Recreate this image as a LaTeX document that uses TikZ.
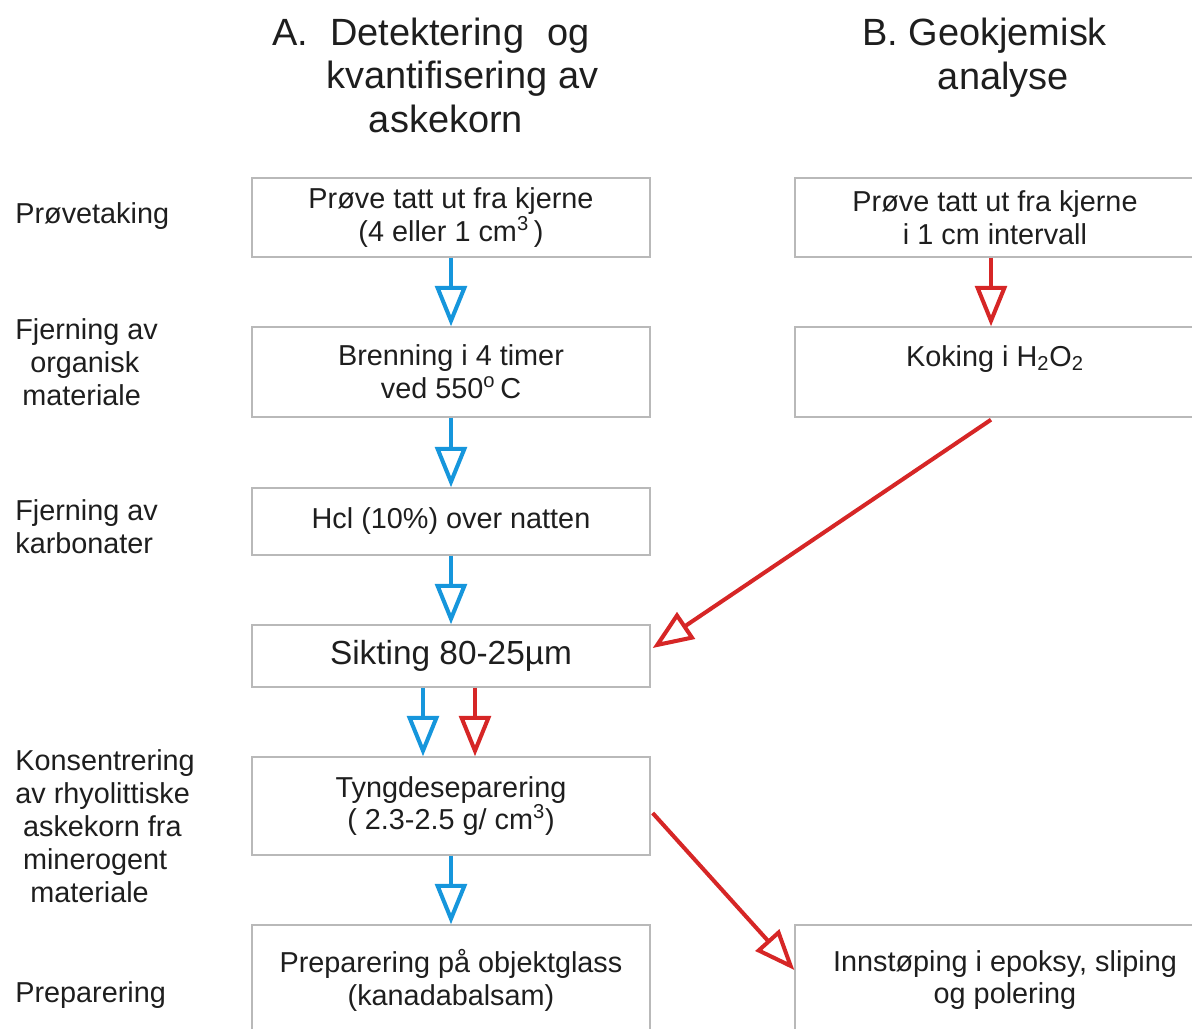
\documentclass[tikz,border=0pt]{standalone}
\usepackage{fontspec}
\setmainfont{Liberation Sans}
\usetikzlibrary{arrows.meta,calc}

\definecolor{flowblue}{RGB}{22,150,220}
\definecolor{flowred}{RGB}{214,38,38}
\definecolor{boxgray}{RGB}{185,185,185}
\definecolor{txtgray}{RGB}{30,30,30}

\tikzset{
  stepbox/.style={draw=boxgray, line width=0.8pt, inner sep=0pt, align=center,
    minimum width=7.96cm, text=txtgray, font=\fontsize{16.4pt}{18.7pt}\selectfont},
  sidelabel/.style={anchor=base west, align=left, inner sep=0pt, text=txtgray,
    font=\fontsize{16.4pt}{18.7pt}\selectfont},
  headlabel/.style={anchor=base west, align=left, inner sep=0pt, text=txtgray,
    font=\fontsize{21.6pt}{24.7pt}\selectfont},
  arrblue/.style={draw=flowblue, line width=2.3pt, -{Triangle[open, length=23pt, width=18pt]}},
  arrred/.style={draw=flowred, line width=2.3pt, -{Triangle[open, length=23pt, width=18pt]}}
}

\begin{document}
\begin{tikzpicture}[x=0.02cm, y=-0.02cm]
\useasboundingbox (0,0) rectangle (1192,1028);

% column headings
\node[headlabel] (headA) at (272,132) {A.\hspace{12.5pt}Detektering\hspace{13pt}og\\\hspace*{30.6pt}kvantifisering av\\\hspace*{55pt}askekorn};
\node[headlabel] (headB) at (862,89) {B. Geokjemisk\\\hspace*{43pt}analyse};

% row labels on the left
\node[sidelabel] (lprove) at (15,223) {Prøvetaking};
\node[sidelabel] (lorg) at (15,405) {Fjerning av\\\hspace*{8.5pt}organisk\\\hspace*{4pt}materiale};
\node[sidelabel] (lkarb) at (15,553) {Fjerning av\\karbonater};
\node[sidelabel] (lkons) at (15,902) {Konsentrering\\av rhyolittiske\\\hspace*{4.4pt}askekorn fra\\\hspace*{4.4pt}minerogent\\\hspace*{8.5pt}materiale};
\node[sidelabel] (lprep) at (15,1002) {Preparering};

% column A
\node[stepbox, minimum height=1.58cm] (a1) at (451,217.5) {Prøve tatt ut fra kjerne\\(4 eller 1 cm\textsuperscript{3}\,)};
\node[stepbox, minimum height=1.8cm] (a2) at (451,372) {Brenning i 4 timer\\ved 550\textsuperscript{o}\,C};
\node[stepbox, minimum height=1.34cm] (a3) at (451,521.5) {Hcl (10\%) over natten};
\node[stepbox, minimum height=1.24cm, font=\fontsize{19pt}{22pt}\selectfont] (a4) at (451,656) {Sikting 80-25µm};
\node[stepbox, minimum height=1.96cm] (a5) at (451,806) {Tyngdeseparering\\(\ 2.3-2.5 g/ cm\textsuperscript{3})};
\node[stepbox, minimum height=2.2cm] (a6) at (451,980) {Preparering på objektglass\\(kanadabalsam)};

% column B
\node[stepbox, minimum width=8cm, minimum height=1.58cm] (b1) at (995,217.5) {Prøve tatt ut fra kjerne\\i 1 cm intervall};
\node[stepbox, minimum width=8cm, minimum height=1.8cm] (b2) at (995,372) {Koking i H\textsubscript{2}O\textsubscript{2}\\\mbox{}};
\node[stepbox, minimum width=8.4cm, minimum height=2.2cm] (b3) at (1005,980) {Innstøping i epoksy, sliping\\og polering};

% arrows
\draw[arrblue] (a1) -- (a2);
\draw[arrblue] (a2) -- (a3);
\draw[arrblue] (a3) -- (a4);
\draw[arrblue] ($(a4.south)+(-28,0)$) -- ($(a5.north)+(-28,0)$);
\draw[arrred] ($(a4.south)+(24,0)$) -- ($(a5.north)+(24,0)$);
\draw[arrblue] (a5) -- (a6);
\draw[arrred] ($(b1.south)+(-4,0)$) -- ($(b2.north)+(-4,0)$);
\draw[arrred] ($(b2.south)+(-4,2)$) -- ($(a4.east)+(2,-8)$);
\draw[arrred] ($(a5.east)+(2,7)$) -- ($(b3.west)+(0,-10)$);
\end{tikzpicture}
\end{document}
